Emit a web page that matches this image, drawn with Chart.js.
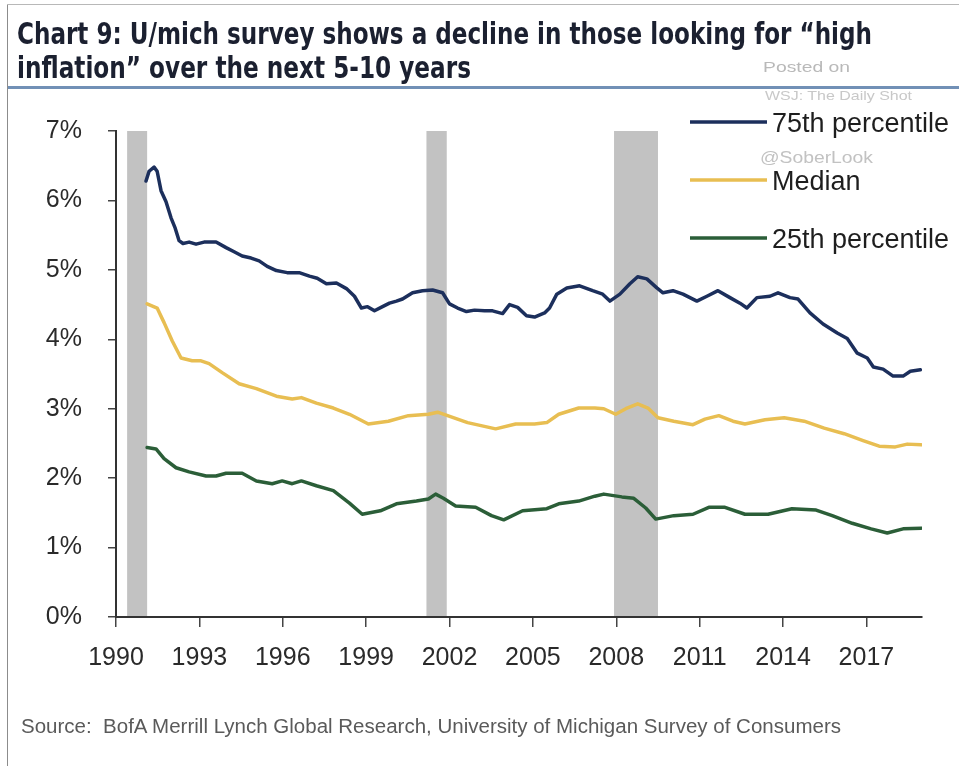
<!DOCTYPE html>
<html><head><meta charset="utf-8">
<script src="https://cdn.jsdelivr.net/npm/chart.js@4/dist/chart.umd.min.js"></script>
<style>
html,body{margin:0;padding:0;background:#fff;}
#wrap{position:relative;width:959px;height:766px;overflow:hidden;background:#fff;}
#c{position:absolute;left:0;top:0;}
.t{position:absolute;white-space:nowrap;transform-origin:0 0;line-height:1;}
.title{font-family:"Liberation Sans Narrow","DejaVu Sans Condensed","Liberation Sans",Arial,sans-serif;font-stretch:condensed;font-weight:bold;font-size:31px;color:#1b2030;left:17px;}
.wm{font-family:"Liberation Sans",Arial,sans-serif;color:#b9b9b9;}
</style></head><body>
<div id="wrap">
<canvas id="c" width="959" height="766"></canvas>
<div style="position:absolute;left:7px;top:4px;width:1px;height:762px;background:#8c8c8c"></div>
<div style="position:absolute;left:7px;top:4px;width:952px;height:1px;background:#b8b8b8"></div>
<div style="position:absolute;left:8px;top:86px;width:951px;height:3px;background:#7190b6"></div>
<div class="t title" data-w="855" style="top:18px">Chart 9: U/mich survey shows a decline in those looking for “high</div>
<div class="t title" data-w="454" style="top:52px">inflation” over the next 5-10 years</div>
<div class="t wm" data-w="87" style="left:763px;top:59px;font-size:15px;">Posted on</div>
<div class="t wm" data-w="147" style="left:765px;top:89px;font-size:13px;color:#c8c8c8">WSJ: The Daily Shot</div>
<div class="t wm" data-w="113" style="left:760px;top:150px;font-size:16px;color:#c2c2c2">@SoberLook</div>
<div class="t" data-w="820" style="left:21px;top:716px;font-family:'Liberation Sans',Arial,sans-serif;font-size:20px;color:#5a5a5a">Source:&nbsp; BofA Merrill Lynch Global Research, University of Michigan Survey of Consumers</div>
</div>
<script>
// ---- data ----
const seriesLabels = ['75th percentile', 'Median', '25th percentile'];
const xTickYears = [1990, 1993, 1996, 1999, 2002, 2005, 2008, 2011, 2014, 2017];
const yTickValues = [0, 1, 2, 3, 4, 5, 6, 7];
const recessionStart = [1990.40, 2001.17, 2007.92];
const recessionEnd = [1991.12, 2001.90, 2009.50];

const p75Years = [1991.08,1991.19,1991.37,1991.48,1991.62,1991.80,1991.98,1992.13,1992.27,1992.41,1992.63,1992.88,1993.17,1993.60,1993.96,1994.25,1994.54,1994.86,1995.15,1995.44,1995.77,1996.16,1996.59,1996.96,1997.24,1997.57,1997.93,1998.29,1998.58,1998.83,1999.05,1999.30,1999.59,1999.84,2000.09,2000.31,2000.67,2001.03,2001.39,2001.75,2002.00,2002.29,2002.61,2002.90,2003.26,2003.55,2003.91,2004.16,2004.45,2004.77,2005.06,2005.42,2005.60,2005.86,2006.22,2006.68,2007.15,2007.51,2007.77,2008.13,2008.49,2008.77,2009.10,2009.46,2009.68,2010.04,2010.40,2010.90,2011.26,2011.66,2012.09,2012.45,2012.70,2013.06,2013.53,2013.82,2014.25,2014.54,2014.97,2015.44,2015.95,2016.31,2016.67,2017.03,2017.25,2017.60,2017.96,2018.32,2018.58,2018.94];
const p75Values = [6.28,6.42,6.48,6.42,6.14,5.98,5.75,5.60,5.42,5.38,5.40,5.37,5.40,5.40,5.32,5.26,5.20,5.17,5.13,5.05,4.99,4.96,4.96,4.91,4.88,4.80,4.81,4.73,4.62,4.45,4.47,4.41,4.47,4.52,4.55,4.58,4.67,4.70,4.71,4.67,4.51,4.45,4.40,4.42,4.41,4.41,4.37,4.50,4.46,4.34,4.32,4.38,4.45,4.65,4.74,4.77,4.70,4.65,4.55,4.65,4.80,4.90,4.87,4.74,4.67,4.70,4.65,4.55,4.62,4.70,4.60,4.52,4.45,4.60,4.62,4.67,4.60,4.58,4.38,4.22,4.09,4.01,3.80,3.73,3.60,3.57,3.47,3.47,3.54,3.56];

const medianYears = [1991.12,1991.48,1991.73,1992.02,1992.34,1992.74,1993.06,1993.35,1993.82,1994.43,1995.05,1995.77,1996.34,1996.67,1997.21,1997.82,1998.40,1999.08,1999.80,2000.52,2001.24,2001.57,2001.93,2002.65,2003.66,2004.38,2005.06,2005.50,2005.93,2006.65,2007.23,2007.55,2007.98,2008.34,2008.77,2009.14,2009.50,2010.07,2010.76,2011.19,2011.69,2012.20,2012.63,2013.35,2014.04,2014.76,2015.48,2016.20,2016.88,2017.46,2018.04,2018.47,2018.97];
const medianValues = [4.51,4.45,4.24,3.98,3.73,3.69,3.69,3.65,3.52,3.36,3.29,3.18,3.14,3.16,3.08,3.01,2.92,2.78,2.82,2.90,2.92,2.95,2.90,2.80,2.71,2.78,2.78,2.80,2.92,3.01,3.01,3.00,2.92,3.00,3.07,3.01,2.87,2.82,2.77,2.85,2.90,2.82,2.78,2.84,2.87,2.82,2.72,2.64,2.54,2.46,2.45,2.49,2.48];

const p25Years = [1991.12,1991.44,1991.73,1992.16,1992.63,1993.24,1993.60,1993.96,1994.54,1995.05,1995.62,1995.98,1996.34,1996.67,1997.21,1997.82,1998.40,1998.86,1999.51,2000.09,2000.81,2001.24,2001.50,2001.78,2002.22,2002.94,2003.51,2003.95,2004.63,2005.50,2005.93,2006.65,2007.23,2007.55,2008.20,2008.63,2009.06,2009.42,2010.07,2010.76,2011.33,2011.91,2012.63,2013.46,2014.32,2015.19,2015.77,2016.49,2017.17,2017.75,2018.32,2018.97];
const p25Values = [2.44,2.42,2.28,2.15,2.09,2.03,2.03,2.07,2.07,1.96,1.92,1.96,1.92,1.96,1.89,1.82,1.64,1.48,1.53,1.63,1.67,1.70,1.77,1.71,1.60,1.58,1.46,1.40,1.53,1.56,1.63,1.67,1.74,1.77,1.73,1.71,1.57,1.41,1.46,1.48,1.58,1.58,1.48,1.48,1.56,1.54,1.46,1.35,1.27,1.21,1.27,1.28];

const seriesColors = ['#1c2f5c', '#e8be52', '#2b5e38'];

function pts(xs, ys) { return xs.map((x, i) => ({ x: x, y: ys[i] })); }

// fit overlay texts to measured widths
document.querySelectorAll('.t').forEach(el => {
  const w = +el.dataset.w;
  const a = el.getBoundingClientRect().width;
  if (a > 0) el.style.transform = 'scaleX(' + (w / a) + ')';
});

const recessionPlugin = {
  id: 'recessions',
  beforeDatasetsDraw(chart) {
    const { ctx, chartArea, scales } = chart;
    const x = scales.x;
    ctx.save();
    ctx.fillStyle = '#c2c2c2';
    recessionStart.forEach((s, i) => {
      const x0 = x.getPixelForValue(s), x1 = x.getPixelForValue(recessionEnd[i]);
      ctx.fillRect(x0, chartArea.top, x1 - x0, chartArea.bottom - chartArea.top - 1);
    });
    ctx.restore();
  }
};

const legendPlugin = {
  id: 'customLegend',
  afterDraw(chart) {
    const ctx = chart.ctx;
    const ys = [122, 180, 238];
    ctx.save();
    chart.data.datasets.forEach((ds, i) => {
      ctx.strokeStyle = ds.borderColor;
      ctx.lineWidth = 3.5;
      ctx.beginPath();
      ctx.moveTo(690, ys[i]);
      ctx.lineTo(767, ys[i]);
      ctx.stroke();
      ctx.fillStyle = '#1e1e1e';
      ctx.font = '27px "Liberation Sans", Arial, sans-serif';
      ctx.textBaseline = 'alphabetic';
      ctx.fillText(ds.label, 772, ys[i] + 10);
    });
    ctx.restore();
  }
};

const tickFont = { family: '"Liberation Sans", Arial, sans-serif', size: 25 };

new Chart(document.getElementById('c'), {
  type: 'line',
  data: {
    datasets: [
      { label: seriesLabels[0], data: pts(p75Years, p75Values), borderColor: seriesColors[0] },
      { label: seriesLabels[1], data: pts(medianYears, medianValues), borderColor: seriesColors[1] },
      { label: seriesLabels[2], data: pts(p25Years, p25Values), borderColor: seriesColors[2] }
    ].map(d => Object.assign(d, { borderWidth: 3.5, pointRadius: 0, tension: 0, fill: false, borderJoinStyle: 'round', borderCapStyle: 'round' }))
  },
  options: {
    responsive: false,
    animation: false,
    events: [],
    layout: { padding: { left: 0, right: 37, top: 131, bottom: 0 } },
    plugins: { legend: { display: false }, tooltip: { enabled: false }, title: { display: false } },
    scales: {
      x: {
        type: 'linear',
        min: 1990, max: 2019,
        afterBuildTicks: s => { s.ticks = xTickYears.map(v => ({ value: v })); },
        afterFit: s => { s.height = 149; },
        ticks: { autoSkip: false, maxRotation: 0, color: '#2a2a2a', font: tickFont, padding: 16, callback: v => String(v) },
        grid: { display: true, drawOnChartArea: false, drawTicks: true, tickLength: 10, color: '#444', lineWidth: 1.5 },
        border: { display: true, color: '#333', width: 2 }
      },
      y: {
        type: 'linear',
        min: 0, max: 7,
        afterBuildTicks: s => { s.ticks = yTickValues.map(v => ({ value: v })); },
        afterFit: s => { s.width = 116; },
        ticks: { color: '#2a2a2a', font: tickFont, padding: 26, callback: v => v + '%' },
        grid: { display: true, drawOnChartArea: false, drawTicks: true, tickLength: 8, color: '#444', lineWidth: 1.5 },
        border: { display: true, color: '#333', width: 2 }
      }
    }
  },
  plugins: [recessionPlugin, legendPlugin]
});
</script>
</body></html>
